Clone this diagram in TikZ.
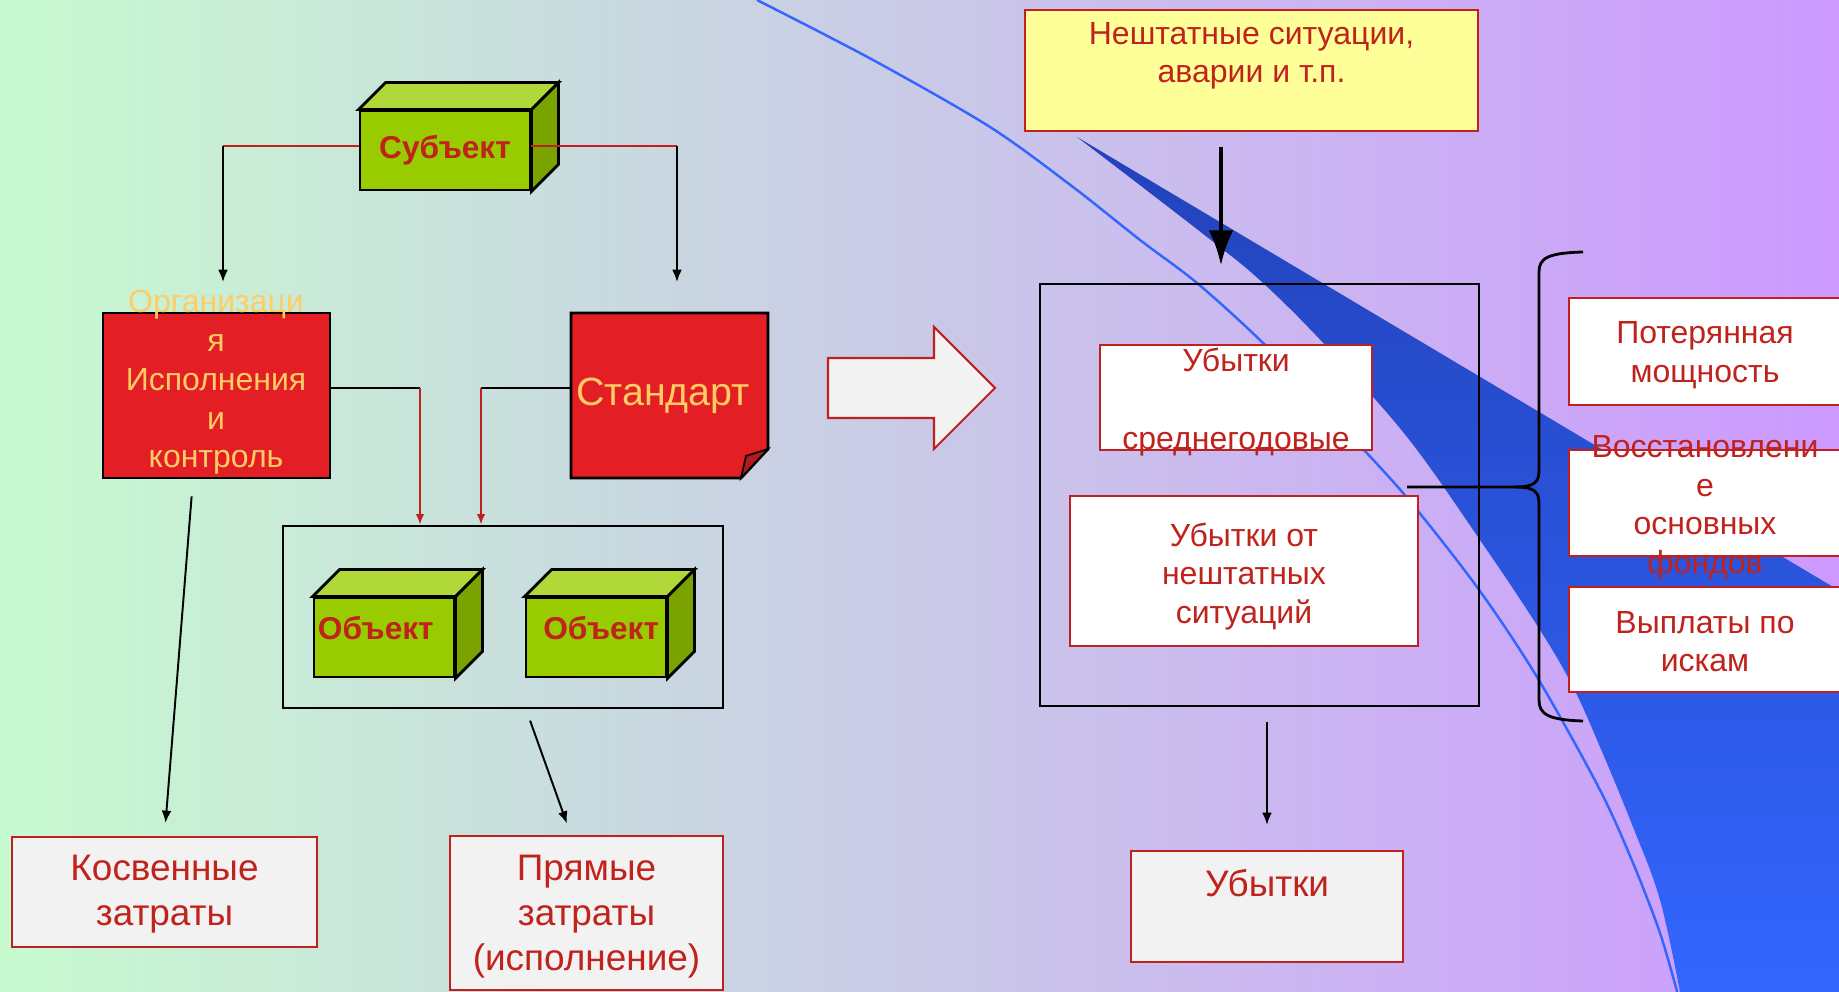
\documentclass[tikz,border=0pt]{standalone}
\usepackage{fontspec}
\setmainfont{Liberation Sans}
\usetikzlibrary{arrows.meta,calc}

\definecolor{bgL}{RGB}{200,250,208}
\definecolor{bgR}{RGB}{204,153,255}
\definecolor{bandA}{RGB}{34,66,186}
\definecolor{bandB}{RGB}{51,102,255}
\definecolor{thinblue}{RGB}{51,102,255}
\definecolor{txtred}{RGB}{192,34,28}
\definecolor{boxred}{RGB}{192,32,32}
\definecolor{orgred}{RGB}{227,30,36}
\definecolor{foldred}{RGB}{176,26,32}
\definecolor{orangetxt}{RGB}{255,204,102}
\definecolor{cubefront}{RGB}{153,204,0}
\definecolor{cubetop}{RGB}{176,216,56}
\definecolor{cubeside}{RGB}{122,163,0}
\definecolor{boxgray}{RGB}{242,242,242}
\definecolor{yelfill}{RGB}{255,255,153}

% top and right face of a cube, front face is the node
\newcommand{\cubefaces}[1]{%
  \filldraw[cubeline, fill=cubetop] (#1.north west) -- ([shift={(27,-27)}]#1.north west)
    -- ([shift={(27,-27)}]#1.north east) -- (#1.north east) -- cycle;
  \filldraw[cubeline, fill=cubeside] (#1.north east) -- ([shift={(27,-27)}]#1.north east)
    -- ([shift={(27,-27)}]#1.south east) -- (#1.south east) -- cycle;
}

\begin{document}
\begin{tikzpicture}[x=0.01cm, y=-0.01cm,
    midfont/.style={font=\fontsize{9.1}{11}\selectfont},
    bigfont/.style={font=\fontsize{10.5}{12.8}\selectfont},
    cubeline/.style={draw=black, line width=0.8pt},
    cube/.style={cubeline, fill=cubefront, inner sep=0pt, text=txtred,
      font=\fontsize{9}{11}\selectfont\bfseries, minimum height=0.79cm},
    redbox/.style={draw=boxred, line width=0.6pt, fill=white, inner sep=0pt},
    graybox/.style={redbox, fill=boxgray},
    boxtext/.style={align=center, text=txtred, inner sep=0pt, midfont},
    bigtext/.style={boxtext, bigfont},
    frame/.style={draw=black, line width=0.7pt, inner sep=0pt},
    blkln/.style={draw=black, line width=0.55pt},
    redln/.style={draw=boxred, line width=0.55pt},
    blkarr/.style={blkln, -{Latex[length=3.5pt,width=2.8pt]}},
    redarr/.style={redln, -{Latex[length=3pt,width=2.4pt]}},
    thickarr/.style={draw=black, line width=1.4pt, -{Latex[length=10pt,width=7pt]}}]

\useasboundingbox (0,0) rectangle (1839,992);
\shade[left color=bgL, right color=bgR] (0,0) rectangle (1839,992);

% background swoosh
\draw[thinblue, line width=0.7pt] plot[smooth] coordinates {(757,0) (873,60) (990,127)
  (1073,187) (1140,240) (1197,283) (1263,343) (1330,414) (1403,493) (1477,587)
  (1537,677) (1600,790) (1633,863) (1660,933) (1678,995)};
\shade[top color=bandA, bottom color=bandB] (1077,137) -- (1850,597) -- (1850,1000)
  -- (1681,1000) -- plot[smooth, tension=0.6] coordinates {(1680,992) (1660,900)
  (1633,827) (1600,747) (1573,687) (1540,630) (1480,540) (1407,437) (1327,347)
  (1263,283) (1207,237) (1077,137)} -- cycle;

% left part
\node[cube, minimum width=1.7cm] (subj) at (445,150.5) {Субъект};
\cubefaces{subj}

\node[frame, line width=0.8pt, fill=orgred, minimum width=2.27cm, minimum height=1.65cm] (org) at (216.5,395.5) {};
\node[midfont, text=orangetxt, align=center] (orgtxt) at (216,382.5) {Организаци\\я\\Исполнения\\и\\контроль};

\filldraw[draw=black, line width=0.8pt, fill=orgred] (571,313) -- (768,313) -- (768,449) -- (741,478) -- (571,478) -- cycle;
\filldraw[draw=black, line width=0.5pt, fill=foldred] (741,478) -- (768,449) -- (746,456) -- cycle;
\node[font=\fontsize{11.2}{13}\selectfont, text=orangetxt, inner sep=0pt,
  minimum width=1.84cm, minimum height=1.65cm] (std) at (663,395.5) {Стандарт};

\node[frame, minimum width=4.4cm, minimum height=1.82cm] (objs) at (503,617) {};
\node[cube, minimum width=1.4cm, text width=1.32cm, align=left, text depth=5.2pt] (obj1) at (384,637.5) {Объект};
\cubefaces{obj1}
\node[cube, minimum width=1.4cm, text width=1.26cm, align=right, text depth=5.2pt] (obj2) at (596,637.5) {Объект};
\cubefaces{obj2}

\node[graybox, minimum width=3.05cm, minimum height=1.1cm,
  label={[bigtext, yshift=-0.023cm]center:{Косвенные\\затраты}}] (kosv) at (164.5,892) {};
\node[graybox, minimum width=2.73cm, minimum height=1.54cm,
  label={[bigtext, yshift=-0.035cm]center:{Прямые\\затраты\\(исполнение)}}] (pryam) at (586.5,913) {};

\coordinate (sl) at (223,146);
\coordinate (sr) at (677,146);
\coordinate (orgin) at (223,282);
\coordinate (stdin) at (677,282);
\draw[redln] (subj.west |- sl) -- (sl);
\draw[blkarr] (sl) -- (orgin);
\draw[redln] (subj.east |- sr) -- (sr);
\draw[blkarr] (sr) -- (stdin);

\coordinate (oa) at (420,388);
\coordinate (sa) at (481,388);
\draw[blkln] (org.east |- oa) -- (oa);
\draw[redarr] (oa) -- (oa |- objs.north);
\draw[blkln] (std.west |- sa) -- (sa);
\draw[redarr] (sa) -- (sa |- objs.north);

\draw[blkarr, shorten <=0.17cm, shorten >=0.13cm] ([xshift=-0.235cm]org.south) -- (kosv.north);
\draw[blkarr, shorten <=0.12cm, shorten >=0.12cm] ([xshift=0.23cm]objs.south) -- ([xshift=-0.155cm]pryam.north);

% big arrow
\filldraw[draw=boxred, line width=0.6pt, fill=boxgray] (828,358) -- (934,358) -- (934,327)
  -- (995,388) -- (934,449) -- (934,418) -- (828,418) -- cycle;

% right part
\node[redbox, fill=yelfill, minimum width=4.53cm, minimum height=1.21cm,
  label={[boxtext, yshift=-0.07cm]center:{Нештатные ситуации,\\аварии и т.п.\\\strut}}] (yel) at (1251.5,70.5) {};
\node[frame, minimum width=4.39cm, minimum height=4.22cm] (loss) at (1259.5,495) {};
\node[redbox, minimum width=2.72cm, minimum height=1.05cm,
  label={[boxtext, yshift=-0.047cm]center:{Убытки\\\strut\\среднегодовые}}] (srg) at (1236,397.5) {};
\node[redbox, minimum width=3.48cm, minimum height=1.5cm,
  label={[boxtext, yshift=-0.053cm]center:{Убытки от\\нештатных\\ситуаций}}] (nesht) at (1244,571) {};
\node[graybox, minimum width=2.72cm, minimum height=1.11cm,
  label={[bigtext, yshift=-0.059cm]center:{Убытки\\\strut}}] (ubyt) at (1267,906.5) {};

\draw[thickarr, shorten <=0.15cm, shorten >=0.17cm] ([xshift=-0.305cm]yel.south) -- ([xshift=-0.305cm]yel.south |- loss.north);
\draw[blkarr, shorten <=0.15cm, shorten >=0.25cm] (ubyt.north |- loss.south) -- (ubyt.north);

\node[redbox, minimum width=2.72cm, minimum height=1.07cm,
  label={[boxtext, yshift=-0.04cm]center:{Потерянная\\мощность}}] (pot) at (1705,351.5) {};
\node[redbox, minimum width=2.72cm, minimum height=1.06cm,
  label={[boxtext, yshift=-0.047cm]center:{Восстановлени\\е\\основных\\фондов}}] (vosst) at (1705,503) {};
\node[redbox, minimum width=2.72cm, minimum height=1.05cm,
  label={[boxtext, yshift=-0.023cm]center:{Выплаты по\\искам}}] (vypl) at (1705,639.5) {};

% brace
\draw[black, line width=0.8pt] (1407,487) -- (1515,487) .. controls (1535,487) and (1539,482) .. (1539,470)
  -- (1539,272) .. controls (1539,258) and (1548,253) .. (1583,252);
\draw[black, line width=0.8pt] (1515,487) .. controls (1535,487) and (1539,492) .. (1539,504)
  -- (1539,700) .. controls (1539,714) and (1548,720) .. (1583,721);
\end{tikzpicture}
\end{document}
